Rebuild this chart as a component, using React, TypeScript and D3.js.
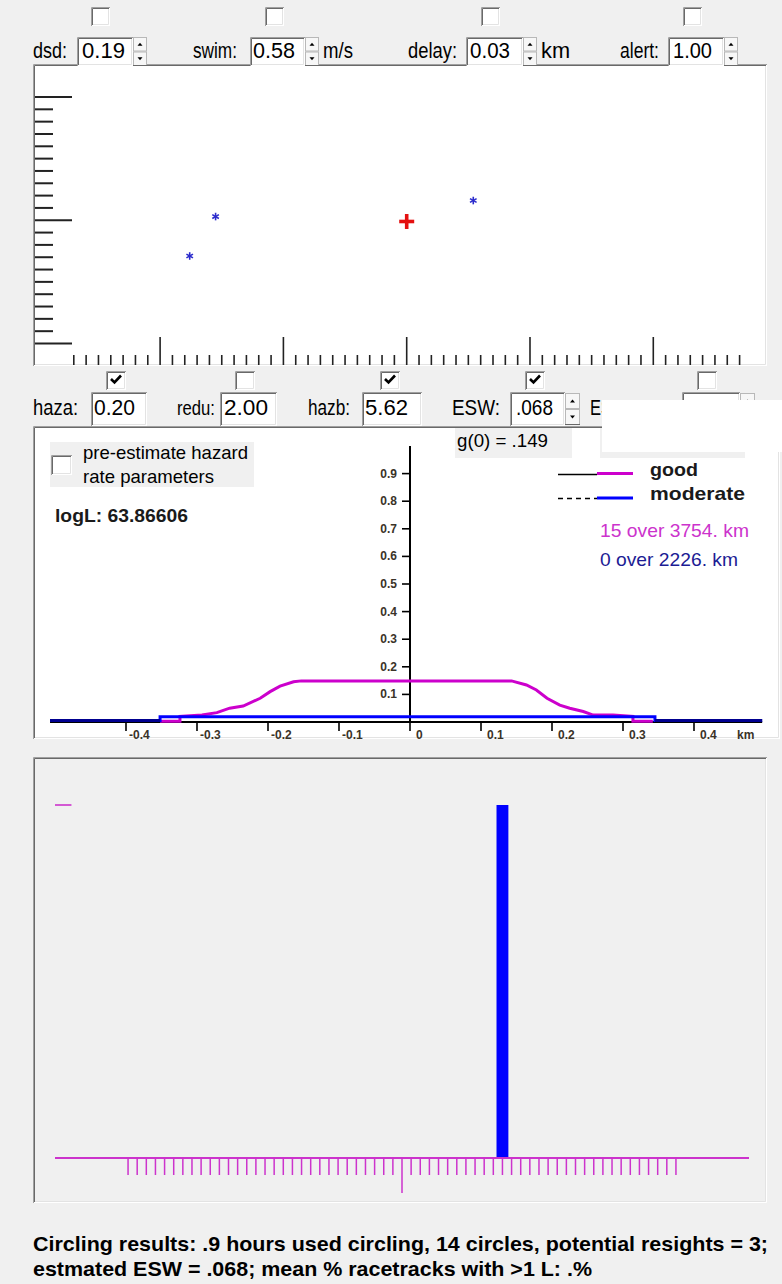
import React from 'react';
import * as d3 from 'd3';

const FONT = "'Liberation Sans', Arial, Helvetica, sans-serif";
const BG = '#f0f0f0';
const MAGENTA = '#cc00cc';
const BLUE = '#0000ff';
const NAVY = '#000090';

// ---- control rows ----
const topLabels = ['dsd:', 'swim:', 'delay:', 'alert:'];
const topValues = ['0.19', '0.58', '0.03', '1.00'];
const topUnits = ['', 'm/s', 'km', ''];
const topChecked = [false, false, false, false];

const hazLabels = ['haza:', 'redu:', 'hazb:', 'ESW:'];
const hazValues = ['0.20', '2.00', '5.62', '.068'];
const hazChecked = [true, false, true, true, false];

// ---- resight plot (grid units around the trackline point) ----
const resightX = [-15.5, -17.6, 5.4];
const resightY = [0.3, -2.9, 1.6];
const originX = [0];
const originY = [-0.1];

// ---- detection function plot ----
const goodKm = [-0.352, -0.324, -0.324, -0.293, -0.272, -0.254, -0.235, -0.211, -0.197, -0.183, -0.164, -0.153,
  0.143, 0.164, 0.178, 0.193, 0.211, 0.225, 0.244, 0.258, 0.286, 0.314, 0.314, 0.342];
const goodG = [0.003, 0.003, 0.02, 0.025, 0.034, 0.05, 0.058, 0.086, 0.11, 0.13, 0.146, 0.149,
  0.149, 0.134, 0.116, 0.086, 0.061, 0.05, 0.038, 0.025, 0.025, 0.02, 0.003, 0.003];
const moderateKm = [-0.507, -0.352, -0.352, 0.345, 0.345, 0.496];
const moderateG = [0.005, 0.005, 0.019, 0.019, 0.005, 0.005];
const gTicks = [0.1, 0.2, 0.3, 0.4, 0.5, 0.6, 0.7, 0.8, 0.9];
const kmTicks = [-0.4, -0.3, -0.2, -0.1, 0, 0.1, 0.2, 0.3, 0.4];
const conditionNames = ['good', 'moderate'];
const effortTexts = ['15 over 3754. km', '0 over 2226. km'];
const g0Text = 'g(0) = .149';
const logLText = 'logL: 63.86606';

// ---- circling histogram ----
const binIndex = [11];
const binCount = [3];

const summaryLines = [
  'Circling results: .9 hours used circling, 14 circles, potential resights = 3;',
  'estmated ESW = .068; mean % racetracks with >1 L: .%',
];

// layout of the two control rows
const topLayout = [
  { lx: 33, lw: 34, bx: 77, bw: 56, vx: 82, vw: 43, ux: 0, uw: 0, cb: 91 },
  { lx: 193, lw: 44, bx: 250, bw: 55, vx: 253, vw: 42, ux: 323, uw: 30, cb: 265 },
  { lx: 408, lw: 49, bx: 466, bw: 57, vx: 470, vw: 40, ux: 541, uw: 29, cb: 481 },
  { lx: 620, lw: 39, bx: 668, bw: 56, vx: 673, vw: 39, ux: 0, uw: 0, cb: 683 },
];
const hazLayout = [
  { lx: 33, lw: 45, ls: 22, bx: 91, bw: 56, vx: 94, vw: 41, spin: false },
  { lx: 177, lw: 38, ls: 19.5, bx: 220, bw: 57, vx: 224, vw: 44, spin: false },
  { lx: 308, lw: 42, ls: 22, bx: 362, bw: 60, vx: 365, vw: 43, spin: false },
  { lx: 452, lw: 48, ls: 22, bx: 510, bw: 55, vx: 516, vw: 37, spin: true },
];
const hazCheckX = [106, 235, 380, 525, 697];

function Txt(props: any) {
  const { x, y, size, w, bold, fill, anchor, children } = props;
  return (
    <text x={x} y={y} fontSize={size} fontFamily={FONT} fontWeight={bold ? 'bold' : 'normal'}
      fill={fill || '#000'} textAnchor={anchor || 'start'}
      {...(w ? { textLength: w, lengthAdjust: 'spacingAndGlyphs' } : {})}>
      {children}
    </text>
  );
}

function Sunken({ x, y, w, h, fill }: any) {
  return (
    <g>
      <rect x={x} y={y} width={w} height={h} fill={fill} />
      <path d={`M${x + 0.5},${y + h} V${y + 0.5} H${x + w}`} stroke="#a0a0a0" fill="none" />
      <path d={`M${x + 1.5},${y + h - 1} V${y + 1.5} H${x + w - 1}`} stroke="#696969" fill="none" />
      <path d={`M${x + 1},${y + h - 0.5} H${x + w - 0.5} V${y + 1}`} stroke="#ffffff" fill="none" />
      <path d={`M${x + 2},${y + h - 1.5} H${x + w - 1.5} V${y + 2}`} stroke="#e3e3e3" fill="none" />
    </g>
  );
}

function CheckBox({ x, y, w, h, checked }: any) {
  return (
    <g>
      <Sunken x={x} y={y} w={w} h={h} fill="#fff" />
      {checked && (
        <path d={`M${x + 5},${y + 8} L${x + 8.5},${y + 11.5} L${x + 15},${y + 4.5}`}
          stroke="#000" strokeWidth={2.6} fill="none" />
      )}
    </g>
  );
}

function Spinner({ x, y, w, h }: any) {
  const hh = h / 2;
  const cx = x + w / 2;
  return (
    <g>
      <rect x={x + 0.5} y={y + 0.5} width={w - 1} height={hh - 1} fill="#f7f7f7" stroke="#b8b8b8" />
      <rect x={x + 0.5} y={y + hh + 0.5} width={w - 1} height={hh - 1} fill="#f7f7f7" stroke="#b8b8b8" />
      <path d={`M${cx - 2.5},${y + hh / 2 + 1.5} L${cx + 2.5},${y + hh / 2 + 1.5} L${cx},${y + hh / 2 - 1.5} Z`} fill="#000" />
      <path d={`M${cx - 2.5},${y + hh + hh / 2 - 1.5} L${cx + 2.5},${y + hh + hh / 2 - 1.5} L${cx},${y + hh + hh / 2 + 1.5} Z`} fill="#000" />
      <line x1={x} x2={x + w} y1={y + h - 0.5} y2={y + h - 0.5} stroke="#696969" />
    </g>
  );
}

export default function App() {
  // resight plot scales
  const xTop = d3.scaleLinear().domain([-27, 27]).range([73.8, 739.6]);
  const yTop = d3.scaleLinear().domain([-10, 10]).range([343.5, 97]);
  const xTickIdx = d3.range(-27, 28);
  const yTickIdx = d3.range(-10, 11);

  // detection function scales
  const xMid = d3.scaleLinear().domain([-0.5, 0.5]).range([55, 765]);
  const yMid = d3.scaleLinear().domain([0, 1]).range([722, 446]);
  const line = d3.line<[number, number]>().x(d => xMid(d[0])).y(d => yMid(d[1]));
  const goodPts = goodKm.map((k, i) => [k, goodG[i]] as [number, number]);
  const modPts = moderateKm.map((k, i) => [k, moderateG[i]] as [number, number]);
  const modOuterL = modPts.slice(0, 2);
  const modOuterR = modPts.slice(4, 6);

  // histogram scales
  const xBot = d3.scaleLinear().domain([-38, 38]).range([55, 749]);
  const yBot = d3.scaleLinear().domain([0, d3.max(binCount) as number]).range([1158, 805]);
  const botTicks = d3.range(-30, 31);

  return (
    <svg width={782} height={1284} style={{ position: 'absolute', left: 0, top: 0, display: 'block' }}>
      <rect x={0} y={0} width={782} height={1284} fill={BG} />

      {/* ===== resight plot ===== */}
      <Sunken x={33} y={64} w={734} h={302} fill="#fff" />
      {yTickIdx.map(i => (
        <line key={'yt' + i} x1={35} x2={i % 10 === 0 ? 72 : 53} y1={yTop(i)} y2={yTop(i)}
          stroke="#222" strokeWidth={2} />
      ))}
      {xTickIdx.map(i => (
        <line key={'xt' + i} x1={xTop(i)} x2={xTop(i)} y1={i % 10 === 0 ? 337 : 355} y2={365}
          stroke="#222" strokeWidth={1.6} />
      ))}
      {resightX.map((v, i) => {
        const cx = xTop(v), cy = yTop(resightY[i]), r = 3.8;
        return (
          <g key={'rs' + i} stroke="#2b2bcc" strokeWidth={1.6}>
            {[90, 30, 150].map(a => {
              const rad = (a * Math.PI) / 180;
              return <line key={a} x1={cx - r * Math.cos(rad)} y1={cy - r * Math.sin(rad)}
                x2={cx + r * Math.cos(rad)} y2={cy + r * Math.sin(rad)} />;
            })}
          </g>
        );
      })}
      {originX.map((v, i) => {
        const cx = xTop(v), cy = yTop(originY[i]);
        return (
          <g key={'or' + i} stroke="#e41010" strokeWidth={3.6}>
            <line x1={cx - 7.5} x2={cx + 7.5} y1={cy} y2={cy} />
            <line x1={cx} x2={cx} y1={cy - 7.5} y2={cy + 7.5} />
          </g>
        );
      })}

      {/* ===== top control row ===== */}
      {topLayout.map((L, i) => (
        <g key={'tc' + i}>
          <CheckBox x={L.cb} y={7} w={19} h={19} checked={topChecked[i]} />
          <Txt x={L.lx} y={58} size={22} w={L.lw}>{topLabels[i]}</Txt>
          <Sunken x={L.bx} y={37} w={L.bw} h={29} fill="#fff" />
          <Txt x={L.vx} y={58} size={22} w={L.vw}>{topValues[i]}</Txt>
          <Spinner x={L.bx + L.bw} y={37} w={14} h={29} />
          {topUnits[i] && <Txt x={L.ux} y={58} size={22} w={L.uw}>{topUnits[i]}</Txt>}
        </g>
      ))}

      {/* ===== detection function plot ===== */}
      <Sunken x={33} y={426} w={747} h={313} fill="#fff" />

      {/* second control row */}
      {hazLayout.map((L, i) => (
        <g key={'hc' + i}>
          <Txt x={L.lx} y={415} size={L.ls} w={L.lw}>{hazLabels[i]}</Txt>
          <Sunken x={L.bx} y={392} w={L.bw} h={34} fill="#fff" />
          <Txt x={L.vx} y={415} size={22} w={L.vw}>{hazValues[i]}</Txt>
          {L.spin && <Spinner x={L.bx + L.bw} y={393} w={15} h={32} />}
        </g>
      ))}
      <Txt x={590} y={415} size={22} w={22}>ES</Txt>
      <Sunken x={682} y={392} w={58} h={34} fill="#fff" />
      <Spinner x={740} y={393} w={15} h={32} />
      {hazCheckX.map((x, i) => (
        <CheckBox key={'hcb' + i} x={x} y={371} w={20} h={19} checked={hazChecked[i]} />
      ))}

      <rect x={455} y={428} width={117} height={30} fill={BG} />
      <Txt x={457} y={447} size={19} w={91}>{g0Text}</Txt>
      <rect x={600} y={428} width={145} height={30} fill={BG} />
      <rect x={602} y={400} width={180} height={52} fill="#fff" />

      <rect x={50} y={442} width={204} height={45} fill={BG} />
      <Sunken x={51} y={455} w={21} h={20} fill="#fff" />
      <Txt x={83} y={459} size={19} w={165}>pre-estimate hazard</Txt>
      <Txt x={83} y={483} size={19} w={131}>rate parameters</Txt>
      <Txt x={55} y={522} size={19} w={133} bold fill="#1a1a1a">{logLText}</Txt>

      {/* axes */}
      <line x1={xMid(-0.507)} x2={xMid(0.496)} y1={yMid(0)} y2={yMid(0)} stroke="#000" strokeWidth={2} />
      <line x1={xMid(0)} x2={xMid(0)} y1={yMid(1)} y2={yMid(0)} stroke="#000" strokeWidth={2} />
      {gTicks.map(v => (
        <g key={'gt' + v}>
          <line x1={xMid(0) - 8} x2={xMid(0)} y1={yMid(v)} y2={yMid(v)} stroke="#000" strokeWidth={1.6} />
          <Txt x={xMid(0) - 13} y={yMid(v) + 4} size={12} bold fill="#3a3328" anchor="end">{v.toFixed(1)}</Txt>
        </g>
      ))}
      {kmTicks.map(v => (
        <g key={'kt' + v}>
          <line x1={xMid(v)} x2={xMid(v)} y1={yMid(0)} y2={yMid(0) + 9} stroke="#000" strokeWidth={1.6} />
          <Txt x={xMid(v) + (v < 0 ? 3 : 6)} y={738.5} size={12} bold fill="#3a3328">
            {v === 0 ? '0' : v.toFixed(1)}
          </Txt>
        </g>
      ))}
      <Txt x={737} y={738.5} size={12} bold fill="#3a3328">km</Txt>

      {/* curves */}
      <path d={line(goodPts) || ''} stroke={MAGENTA} strokeWidth={3} fill="none" />
      <path d={line(modPts) || ''} stroke={BLUE} strokeWidth={3} fill="none" />
      <path d={line(modOuterL) || ''} stroke={NAVY} strokeWidth={3} fill="none" />
      <path d={line(modOuterR) || ''} stroke={NAVY} strokeWidth={3} fill="none" />

      {/* legend */}
      <line x1={558} x2={597} y1={474.5} y2={474.5} stroke="#000" strokeWidth={1.3} />
      <line x1={597} x2={633} y1={473.5} y2={473.5} stroke={MAGENTA} strokeWidth={3} />
      <line x1={558} x2={597} y1={498.5} y2={498.5} stroke="#000" strokeWidth={1.3} strokeDasharray="5,4" />
      <line x1={597} x2={633} y1={498} y2={498} stroke={BLUE} strokeWidth={3} />
      <Txt x={650} y={476} size={19} w={48} bold fill="#1a1a1a">{conditionNames[0]}</Txt>
      <Txt x={650} y={500} size={19} w={95} bold fill="#1a1a1a">{conditionNames[1]}</Txt>
      <Txt x={600} y={537} size={19} w={149} fill="#cc33cc">{effortTexts[0]}</Txt>
      <Txt x={600} y={566} size={19} w={138} fill="#1c1c94">{effortTexts[1]}</Txt>

      {/* ===== circling histogram ===== */}
      <Sunken x={33} y={757} w={734} h={446} fill={BG} />
      <line x1={xBot(-38)} x2={xBot(-36.2)} y1={yBot(3)} y2={yBot(3)} stroke="#cc33cc" strokeWidth={1.6} />
      {binIndex.map((b, i) => (
        <rect key={'bin' + i} x={xBot(b - 0.65)} width={xBot(b + 0.65) - xBot(b - 0.65)}
          y={yBot(binCount[i])} height={yBot(0) - yBot(binCount[i])} fill={BLUE} />
      ))}
      <line x1={xBot(-38)} x2={xBot(38)} y1={yBot(0)} y2={yBot(0)} stroke="#cc33cc" strokeWidth={2} />
      {botTicks.map(t => (
        <line key={'bt' + t} x1={xBot(t)} x2={xBot(t)} y1={yBot(0)} y2={t === 0 ? 1193 : 1175}
          stroke="#cc33cc" strokeWidth={1.5} />
      ))}

      {/* summary */}
      <Txt x={33} y={1251} size={21} w={735} bold>{summaryLines[0]}</Txt>
      <Txt x={33} y={1276} size={21} w={559} bold>{summaryLines[1]}</Txt>
    </svg>
  );
}
